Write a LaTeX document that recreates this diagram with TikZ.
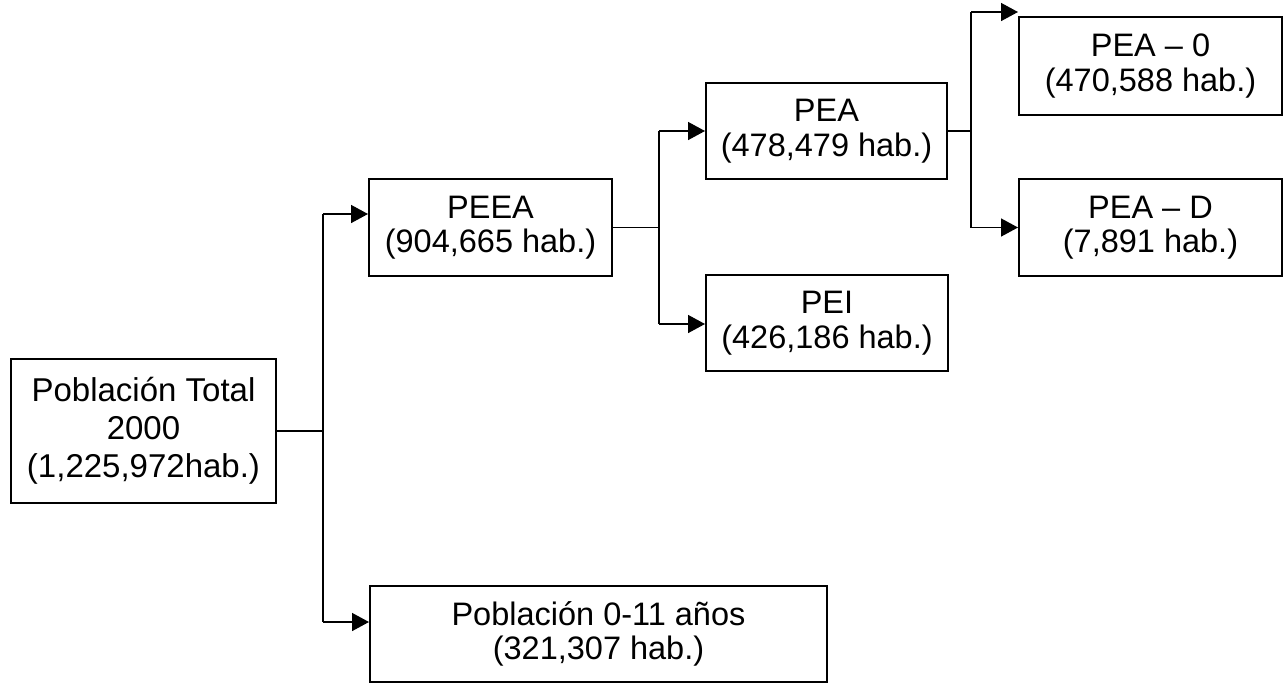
\documentclass[tikz,border=0pt]{standalone}
\usepackage{fontspec}
\setmainfont{Liberation Sans}
\usetikzlibrary{arrows.meta}

\tikzset{
	caja/.style={draw, line width=2pt, inner sep=0pt, align=center,
		font=\fontsize{32.5}{34.5}\selectfont},
	linea/.style={line width=1.5pt},
	flecha/.style={line width=1.5pt, -{Triangle[length=17pt,width=18pt]}}
}

\begin{document}
\begin{tikzpicture}[x=1pt,y=-1pt]
	\useasboundingbox (0,0) rectangle (1283,683);
	\node[caja, minimum width=265pt, minimum height=144pt, font=\fontsize{33}{38}\selectfont] (tot) at (143.5,431) {Población Total\\2000\\(1,225,972hab.)};
	\node[caja, minimum width=243pt, minimum height=97pt] (peea) at (490.5,227.5) {PEEA\\(904,665 hab.)};
	\node[caja, minimum width=457pt, minimum height=96pt] (nin) at (598.5,634) {Población 0-11 años\\(321,307 hab.)};
	\node[caja, minimum width=241pt, minimum height=96pt] (pea) at (826.5,131) {PEA\\(478,479 hab.)};
	\node[caja, minimum width=242pt, minimum height=96pt] (pei) at (827,323) {PEI\\(426,186 hab.)};
	\node[caja, minimum width=263pt, minimum height=98pt] (pea0) at (1150.5,66) {PEA – 0\\(470,588 hab.)};
	\node[caja, minimum width=263pt, minimum height=97pt] (pead) at (1150.5,227.5) {PEA – D\\(7,891 hab.)};
	\coordinate (j1) at (323,431);
	\coordinate (a1) at (323,214);
	\coordinate (b1) at (323,622);
	\coordinate (j2) at (659,227.5);
	\coordinate (a2) at (659,131);
	\coordinate (b2) at (659,324);
	\coordinate (j3) at (971,131);
	\coordinate (a3) at (971,12);
	\coordinate (b3) at (971,227.5);
	\draw [linea] (tot) -- (j1);
	\draw [linea] (a1) -- (b1);
	\draw [flecha] (a1) -- (a1 -| peea.west);
	\draw [flecha] (b1) -- (b1 -| nin.west);
	\draw [linea] (peea) -- (j2);
	\draw [linea] (a2) -- (b2);
	\draw [flecha] (a2) -- (pea);
	\draw [flecha] (b2) -- (b2 -| pei.west);
	\draw [linea] (pea) -- (j3);
	\draw [linea] (a3) -- (b3);
	\draw [flecha] (a3) -- (a3 -| pea0.west);
	\draw [flecha] (b3) -- (pead);
\end{tikzpicture}
\end{document}
